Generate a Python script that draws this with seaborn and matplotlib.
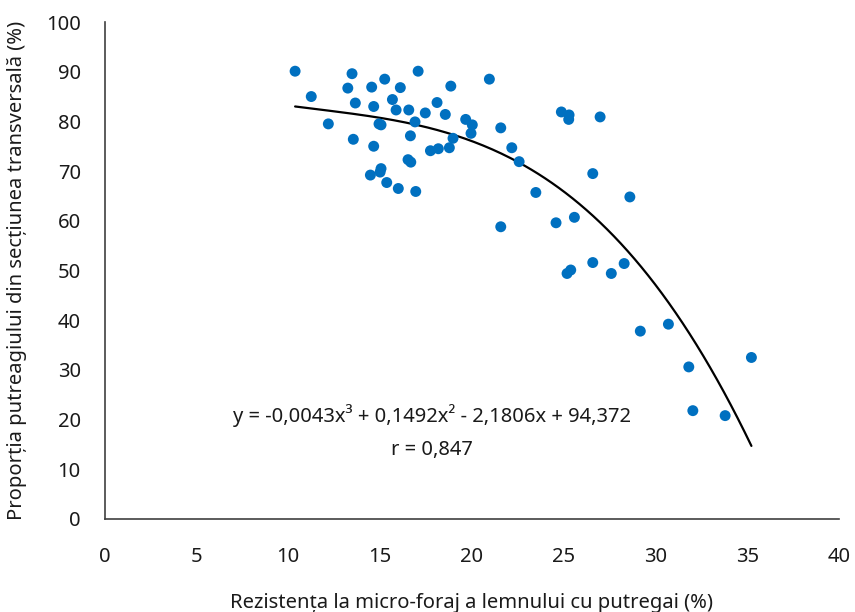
import numpy as np
import pandas as pd
import matplotlib
matplotlib.use("Agg")
import matplotlib.pyplot as plt
import seaborn as sns

# Data
rezistenta = [10.38, 11.26, 12.19, 13.48, 13.25, 13.66, 13.55, 14.55, 14.66, 14.95,
              15.06, 14.66, 15.26, 15.68, 15.88, 16.11, 16.57, 16.91, 16.66, 16.53,
              16.68, 17.08, 17.47, 18.11, 18.56, 18.86, 17.75, 18.18, 18.78, 18.98,
              19.67, 20.03, 19.96, 20.96, 21.58, 14.48, 15.01, 15.06, 15.37, 16.00,
              16.95, 22.18, 22.58, 23.49, 21.58, 24.59, 25.59, 24.88, 25.30, 25.28,
              26.99, 26.59, 28.61, 25.19, 25.39, 26.59, 27.60, 28.30, 29.18, 30.71,
              31.82, 35.23, 32.04, 33.80]
proportie = [90.1, 85.0, 79.5, 89.6, 86.7, 83.7, 76.4, 86.9, 83.0, 79.5,
             79.3, 75.0, 88.5, 84.4, 82.3, 86.8, 82.3, 79.9, 77.1, 72.3,
             71.8, 90.1, 81.7, 83.8, 81.4, 87.1, 74.1, 74.5, 74.7, 76.6,
             80.4, 79.3, 77.6, 88.5, 78.7, 69.2, 69.8, 70.5, 67.7, 66.5,
             65.9, 74.7, 71.9, 65.7, 58.8, 59.6, 60.7, 81.9, 81.3, 80.4,
             80.9, 69.5, 64.8, 49.4, 50.1, 51.6, 49.4, 51.4, 37.8, 39.2,
             30.6, 32.5, 21.8, 20.8]
# Trend line coefficients (highest degree first), as printed on the chart
coef = [-0.0043, 0.1492, -2.1806, 94.372]
x_ticks = [0, 5, 10, 15, 20, 25, 30, 35, 40]
y_ticks = [0, 10, 20, 30, 40, 50, 60, 70, 80, 90, 100]
equation = "y = -0,0043x\u00b3 + 0,1492x\u00b2 - 2,1806x + 94,372"
r_text = "r = 0,847"
x_label = "Rezistența la micro-foraj a lemnului cu putregai (%)"
y_label = "Proporția putreagiului din secțiunea transversală (%)"

sns.set_theme(style="white")
plt.rcParams['font.family'] = ['Noto Sans', 'DejaVu Sans']

df = pd.DataFrame({"x": rezistenta, "y": proportie})
xs = np.linspace(min(rezistenta), max(rezistenta), 200)
trend = pd.DataFrame({"x": xs, "y": np.polyval(coef, xs)})

fig = plt.figure(figsize=(8.55, 6.12), dpi=100)
ax = fig.add_axes([104.5 / 855, 93 / 612, (839 - 104.5) / 855, (519 - 22) / 612])

sns.scatterplot(data=df, x="x", y="y", ax=ax, color="#0070C0", s=62,
                edgecolor="none", zorder=3)
sns.lineplot(data=trend, x="x", y="y", ax=ax, color="black", linewidth=1.6,
             zorder=2)

fs = 14.5
ax.set_xlim(0, 40)
ax.set_ylim(0, 100)
ax.set_xticks(x_ticks)
ax.set_yticks(y_ticks)
ax.tick_params(axis="both", length=0, labelsize=fs, colors="#1a1a1a")
ax.tick_params(axis="x", pad=20)
ax.tick_params(axis="y", pad=17)
for s in ["top", "right"]:
    ax.spines[s].set_visible(False)
for s in ["left", "bottom"]:
    ax.spines[s].set_color("#404040")
    ax.spines[s].set_linewidth(1.2)

ax.set_xlabel(x_label, fontsize=fs, color="#1a1a1a", labelpad=19)
ax.set_ylabel(y_label, fontsize=fs, color="#1a1a1a", labelpad=14)

ax.text(17.84, 20.9, equation, ha="center", va="center", fontsize=fs,
        color="#1a1a1a")
ax.text(17.84, 13.9, r_text, ha="center", va="center", fontsize=fs,
        color="#1a1a1a")

fig.savefig("out.png", dpi=100)
